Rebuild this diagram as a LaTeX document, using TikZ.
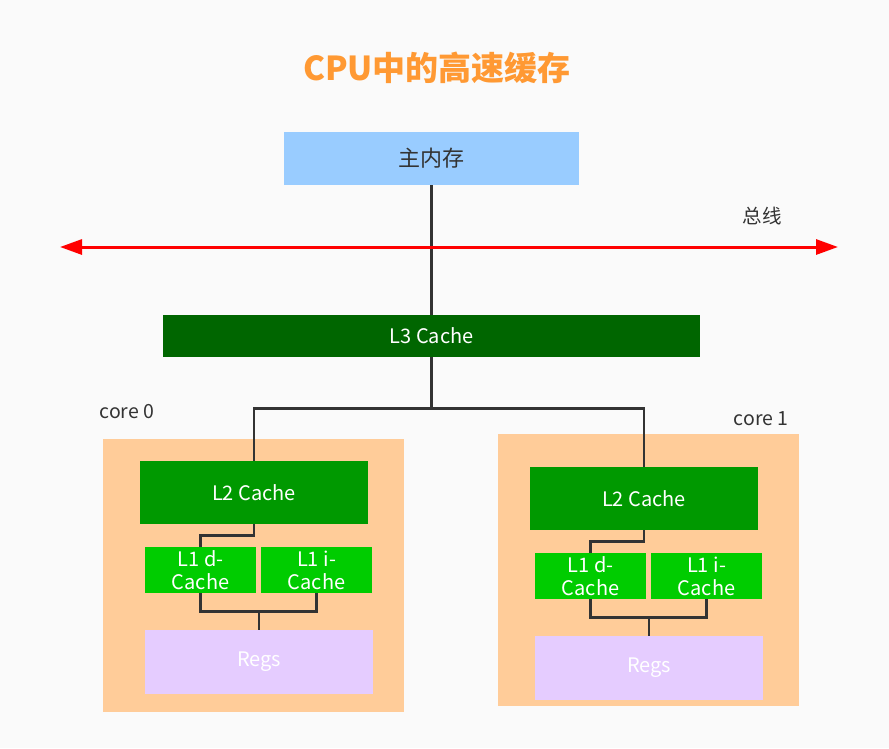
\documentclass[tikz,border=0pt]{standalone}
\usepackage{fontspec}
\setmainfont{Noto Sans CJK SC}
\usepackage{xcolor}
\usepackage{tikz}
\usetikzlibrary{arrows.meta, positioning}
\definecolor{bgc}{HTML}{FAFAFA}
\definecolor{titlec}{HTML}{FF9933}
\definecolor{memc}{HTML}{99CCFF}
\definecolor{lthree}{HTML}{006600}
\definecolor{ltwo}{HTML}{009900}
\definecolor{lone}{HTML}{00CC00}
\definecolor{corec}{HTML}{FFCC99}
\definecolor{regc}{HTML}{E5CCFF}
\definecolor{inkc}{HTML}{333333}
\tikzset{
  blk/.style={rectangle, inner sep=0pt, align=center, text=white,
              font=\fontsize{20}{23}\selectfont},
  mem/.style={blk, fill=memc, text=inkc, minimum width=295pt, minimum height=53pt,
              font=\fontsize{22}{24}\selectfont},
  cachethree/.style={blk, fill=lthree, minimum width=537pt, minimum height=42pt},
  cachetwo/.style={blk, fill=ltwo, minimum width=228pt, minimum height=63pt},
  cacheone/.style={blk, fill=lone, minimum width=111pt, minimum height=46pt},
  regs/.style={blk, fill=regc, minimum width=228pt, minimum height=64pt},
  corebox/.style={rectangle, fill=corec, minimum width=301pt, minimum height=273pt},
  lbl/.style={text=inkc, font=\fontsize{19.5}{22}\selectfont},
  wire/.style={draw=inkc, line width=2.8pt},
  bus/.style={{Triangle[length=22pt, width=15pt]}-{Triangle[length=22pt, width=15pt]},
              red, line width=3pt}
}
\begin{document}
\begin{tikzpicture}[x=1pt, y=-1pt]
    \fill[bgc] (0,0) rectangle (889,748);
    \node[text=titlec, font=\fontsize{33}{36}\selectfont\bfseries] (title) at (437,68) {CPU中的高速缓存};
    \node[mem] (mm) at (431.5,158.5) {主内存};
    \node[cachethree] (l3) at (431.5,336) {L3 Cache};
    % bus
    \coordinate (busl) at (60,247);
    \coordinate (busr) at (838,247);
    \node[lbl] (buslbl) at (762,216) {总线};
    % cores
    \node[corebox] (core0) at (253.5,575.5) {};
    \node[corebox, minimum height=272pt] (core1) at (648.5,570) {};
    \node[lbl] (core0lbl) at (127,412) {core 0};
    \node[lbl] (core1lbl) at (761,419) {core 1};
    \foreach \c/\dx/\dy in {0/0/0, 1/390/6} {
      \begin{scope}[shift={(\dx,\dy)}]
        \node[cachetwo] (l2\c) at (254,492.5) {L2 Cache};
        \node[cacheone] (l1d\c) at (200.5,570) {L1 d-\\Cache};
        \node[cacheone] (l1i\c) at (316.5,570) {L1 i-\\Cache};
        \node[regs] (regs\c) at (259,662) {Regs};
      \end{scope}
      \draw[wire] (l2\c.south) -- ++(0,11) -| (l1d\c.north);
      \draw[wire] (l1d\c.south) -- ++(0,18) -| (l1i\c.south);
      \draw[wire] (regs\c.north) -- ++(0,-19);
    }
    \draw[wire] (mm.south) -- (l3.north);
    \draw[wire] (l3.south) -- ++(0,51) -| (l20.north);
    \draw[wire] (l3.south) -- ++(0,51) -| (l21.north);
    \draw[bus] (busl) -- (busr);
  \end{tikzpicture}
\end{document}
